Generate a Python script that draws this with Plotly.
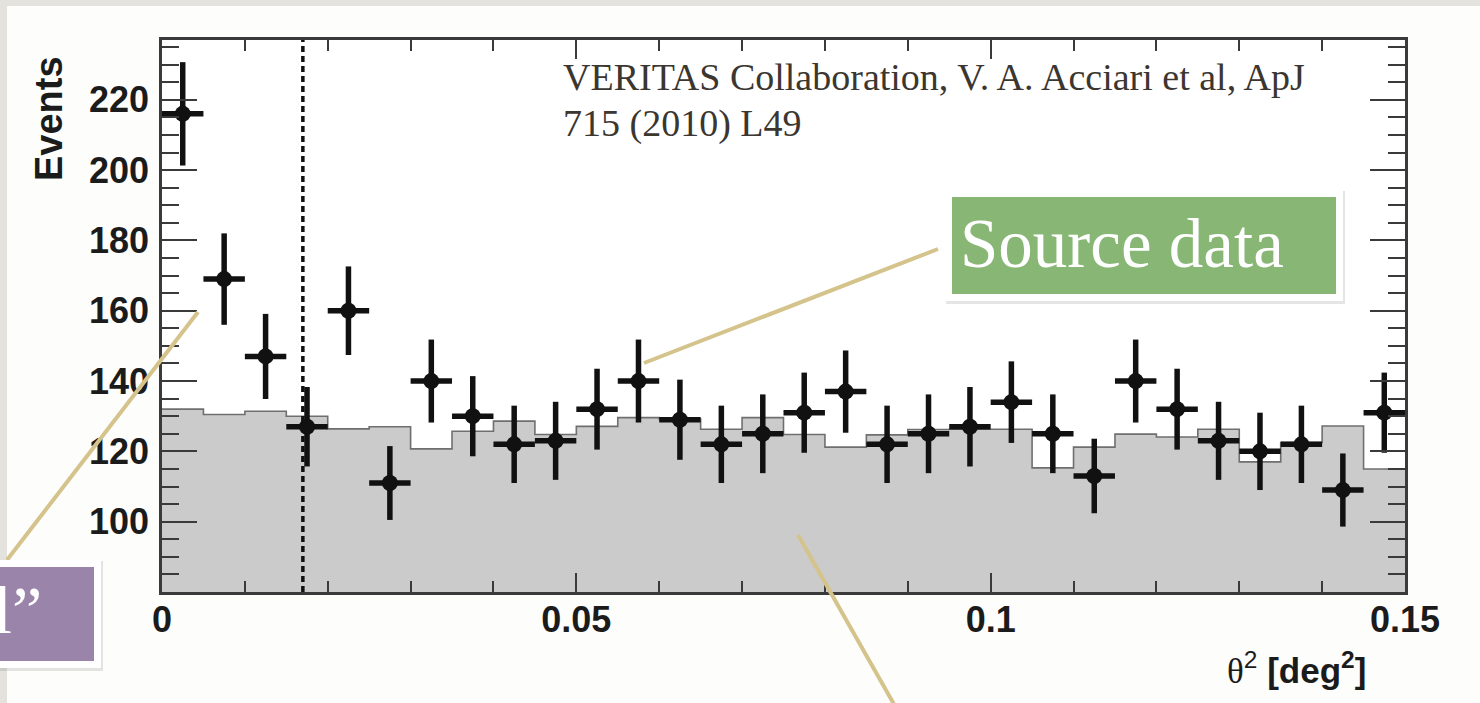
import plotly.graph_objects as go

# ---- theta^2 histogram data (30 bins of 0.005 deg^2) ----
BIN_WIDTH = 0.005
N_BINS = 30
on_counts = [216, 169, 147, 127, 160, 111, 140, 130, 122, 123,
             132, 140, 129, 122, 125, 131, 137, 122, 125, 127,
             134, 125, 113, 140, 132, 123, 120, 122, 109, 131]
on_errors = [14.7, 13.0, 12.1, 11.3, 12.6, 10.5, 11.8, 11.4, 11.0, 11.1,
             11.5, 11.8, 11.4, 11.0, 11.2, 11.4, 11.7, 11.0, 11.2, 11.3,
             11.6, 11.2, 10.6, 11.8, 11.5, 11.1, 11.0, 11.0, 10.4, 11.4]
background = [132.0, 130.5, 131.4, 130.0, 126.4, 127.0, 120.7, 125.7, 128.6, 124.8,
              127.1, 129.6, 129.2, 126.3, 129.6, 124.8, 121.2, 124.7, 126.2, 126.3,
              126.3, 115.3, 121.2, 124.9, 124.1, 126.3, 117.0, 122.5, 127.2, 115.0]
THETA2_CUT = 0.017

x_tickvals = [0, 0.05, 0.1, 0.15]
x_ticktext = ["0", "0.05", "0.1", "0.15"]
y_tickvals = [100, 120, 140, 160, 180, 200, 220]
y_ticktext = ["100", "120", "140", "160", "180", "200", "220"]

X_RANGE = [0, 0.15]
Y_RANGE = [80, 237]

edges = [i * BIN_WIDTH for i in range(N_BINS + 1)]
centers = [(i + 0.5) * BIN_WIDTH for i in range(N_BINS)]

# ---- page geometry (pixels) ----
W, H = 1480, 703
ML, MR, MT, MB = 162, 75, 40, 111
PW, PH = W - ML - MR, H - MT - MB


def px(x):
    return (x - ML) / PW


def py(y):
    return (H - MB - y) / PH


fig = go.Figure()

# background (OFF) histogram as a filled step outline
fig.add_trace(go.Scatter(
    x=edges, y=background + [background[-1]],
    mode="lines", line=dict(shape="hv", color="#6f6f6f", width=1.6),
    fill="tozeroy", fillcolor="#cbcbcb", hoverinfo="skip", showlegend=False))

# theta^2 cut
fig.add_trace(go.Scatter(
    x=[THETA2_CUT, THETA2_CUT], y=Y_RANGE, mode="lines",
    line=dict(color="#111111", width=3.5, dash="6px,4px"),
    hoverinfo="skip", showlegend=False))

# source (ON) data points
fig.add_trace(go.Scatter(
    x=centers, y=on_counts, mode="markers",
    marker=dict(color="#111111", size=16, symbol="circle"),
    error_y=dict(type="data", array=on_errors, color="#111111", thickness=5.5, width=0),
    error_x=dict(type="constant", value=BIN_WIDTH / 2, color="#111111", thickness=5.5, width=0),
    showlegend=False))

tickfont = dict(family="Liberation Sans, Arial, sans-serif", size=36, color="#1b1b1b", weight="bold")

fig.update_xaxes(
    range=X_RANGE, tickvals=x_tickvals, ticktext=x_ticktext,
    showgrid=False, zeroline=False, showline=True, linecolor="#3a3a3a", linewidth=2.5,
    mirror="allticks", ticks="inside", ticklen=19, tickwidth=2, tickcolor="#3a3a3a",
    minor=dict(dtick=0.01, ticks="inside", ticklen=11, tickwidth=2, tickcolor="#3a3a3a"),
    tickfont=tickfont, ticklabelstandoff=-6)
fig.update_yaxes(
    range=Y_RANGE, tickvals=y_tickvals, ticktext=y_ticktext,
    showgrid=False, zeroline=False, showline=True, linecolor="#3a3a3a", linewidth=2.5,
    mirror="allticks", ticks="inside", ticklen=35, tickwidth=2, tickcolor="#3a3a3a",
    minor=dict(tickvals=list(range(80, 240, 5)), ticks="inside", ticklen=17, tickwidth=2,
               tickcolor="#3a3a3a"),
    tickfont=tickfont, ticklabelstandoff=3)

shapes = []
# slide frame strips
shapes.append(dict(type="rect", xref="paper", yref="paper", x0=px(0), x1=px(W), y0=py(0), y1=py(6),
                   fillcolor="#e4e2dd", line=dict(width=0), layer="above"))
shapes.append(dict(type="rect", xref="paper", yref="paper", x0=px(0), x1=px(7), y0=py(0), y1=py(H),
                   fillcolor="#e4e2dd", line=dict(width=0), layer="above"))

# callout leader lines
tan = "#d5c38c"
for (x0, y0, x1, y1) in [(7, 560, 198, 312), (938, 249, 644, 363), (798, 535, 895, 706)]:
    shapes.append(dict(type="line", xref="paper", yref="paper",
                       x0=px(x0), y0=py(y0), x1=px(x1), y1=py(y1),
                       line=dict(color=tan, width=4), layer="above"))


def boxed(x0, y0, x1, y1, color, border=7):
    out = []
    out.append(dict(type="rect", xref="paper", yref="paper",
                    x0=px(x0 - border + 1), x1=px(x1 + border + 2),
                    y0=py(y0 - border + 1), y1=py(y1 + border + 3),
                    fillcolor="rgba(0,0,0,0.10)", line=dict(width=0), layer="above"))
    out.append(dict(type="rect", xref="paper", yref="paper",
                    x0=px(x0 - border), x1=px(x1 + border),
                    y0=py(y0 - border), y1=py(y1 + border),
                    fillcolor="#ffffff", line=dict(width=0), layer="above"))
    out.append(dict(type="rect", xref="paper", yref="paper",
                    x0=px(x0), x1=px(x1), y0=py(y0), y1=py(y1),
                    fillcolor=color, line=dict(width=0), layer="above"))
    return out


shapes += boxed(952, 197, 1336, 294, "#88b674")
shapes += boxed(-20, 567, 94, 661, "#9a84aa")

annotations = []
serif = "Liberation Serif, Times New Roman, serif"
annotations.append(dict(text="VERITAS Collaboration, V. A. Acciari et al, ApJ",
                        xref="paper", yref="paper", x=px(561), y=py(77),
                        xanchor="left", yanchor="middle", showarrow=False,
                        font=dict(family=serif, size=38, color="#3b3630")))
annotations.append(dict(text="715 (2010) L49",
                        xref="paper", yref="paper", x=px(561), y=py(123),
                        xanchor="left", yanchor="middle", showarrow=False,
                        font=dict(family=serif, size=38, color="#3b3630")))
annotations.append(dict(text="Source data",
                        xref="paper", yref="paper", x=px(958), y=py(244),
                        xanchor="left", yanchor="middle", showarrow=False,
                        font=dict(family=serif, size=69, color="#ffffff")))
annotations.append(dict(text="l\u201d",
                        xref="paper", yref="paper", x=px(44), y=py(610),
                        xanchor="right", yanchor="middle", showarrow=False,
                        font=dict(family=serif, size=68, color="#ffffff")))
annotations.append(dict(text="<b>Events</b>",
                        xref="paper", yref="paper", x=px(49), y=py(119),
                        xanchor="center", yanchor="middle", textangle=-90, showarrow=False,
                        font=dict(family="Liberation Sans, Arial, sans-serif", size=38,
                                  color="#1b1b1b")))
annotations.append(dict(
    text="<span style='font-family:Liberation Serif;font-weight:normal'>\u03b8</span>"
         "<sup>2</sup> <b>[deg<sup>2</sup>]</b>",
    xref="paper", yref="paper", x=px(1368), y=py(668),
    xanchor="right", yanchor="middle", showarrow=False,
    font=dict(family="Liberation Sans, Arial, sans-serif", size=35, color="#1b1b1b")))

fig.update_layout(
    width=W, height=H, margin=dict(l=ML, r=MR, t=MT, b=MB, pad=0),
    paper_bgcolor="#fdfdfc", plot_bgcolor="#ffffff",
    shapes=shapes, annotations=annotations, showlegend=False)

fig.write_html("out.html")
